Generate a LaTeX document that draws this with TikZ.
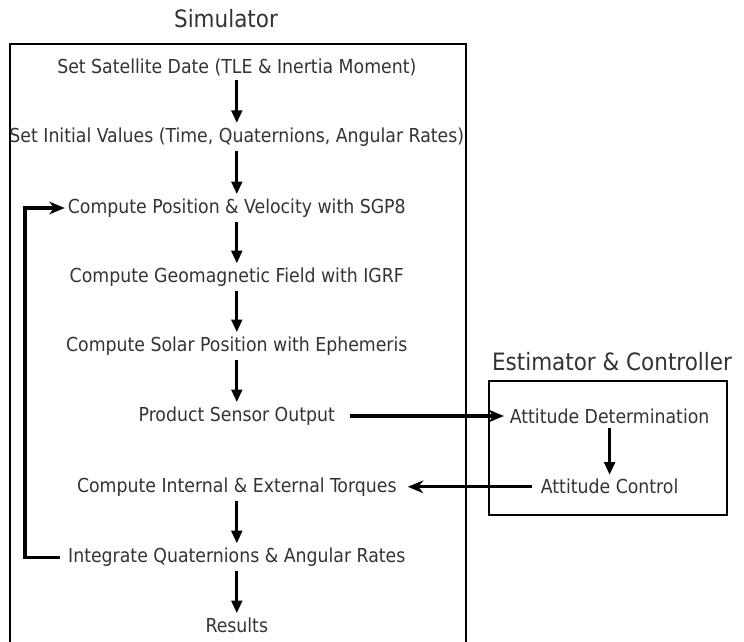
\documentclass[tikz,border=0pt]{standalone}
\usepackage{fontspec}
\setmainfont{DejaVu Sans Condensed}
\usepackage{xcolor}
\usetikzlibrary{arrows.meta, positioning}

\begin{document}
\begin{tikzpicture}[
  stepnode/.style={inner xsep=2pt, inner ysep=1pt,
                   font=\fontsize{13.7}{16}\selectfont, text=black!80},
  titlenode/.style={inner sep=0pt, font=\fontsize{17}{20}\selectfont,
                    text=black!80},
  frame/.style={draw, line width=1.4pt},
  varr/.style={-{Triangle[length=9pt, width=7.5pt]}, line width=2.2pt,
               shorten <=2pt, shorten >=2pt},
  harr/.style={-{Stealth[length=11pt, width=9pt, inset=3.5pt]}, line width=2.2pt},
]
\useasboundingbox (0,0) rectangle (18.6,-16.025);

% --- Titles and frames ---
\node[titlenode] (simtitle) at (5.65, -0.47) {Simulator};
\node[titlenode] (esttitle) at (15.3, -9.03) {Estimator \& Controller};
\draw[frame] (0.25,-16.4) -- (0.25,-1.09) -- (11.65,-1.09) -- (11.65,-16.4);
\draw[frame] (12.225,-9.525) rectangle (18.175,-12.875);

% --- Simulator steps ---
\node[stepnode] (satdata) at (5.92,  -1.68) {Set Satellite Date (TLE \& Inertia Moment)};
\node[stepnode] (initval) at (5.92,  -3.42) {Set Initial Values (Time, Quaternions, Angular Rates)};
\node[stepnode] (posvel)  at (5.92,  -5.20) {Compute Position \& Velocity with SGP8};
\node[stepnode] (geomag)  at (5.92,  -6.93) {Compute Geomagnetic Field with IGRF};
\node[stepnode] (solar)   at (5.92,  -8.65) {Compute Solar Position with Ephemeris};
\node[stepnode] (sensor)  at (5.92, -10.40) {Product Sensor Output};
\node[stepnode] (torques) at (5.92, -12.17) {Compute Internal \& External Torques};
\node[stepnode] (integ)   at (5.92, -13.93) {Integrate Quaternions \& Angular Rates};
\node[stepnode] (results) at (5.92, -15.63) {Results};

% --- Estimator & Controller steps ---
\node[stepnode] (attdet)  at (15.24, -10.40) {Attitude Determination};
\node[stepnode] (attctl)  at (15.24, -12.17) {Attitude Control};

% --- Vertical flow ---
\draw[varr] (satdata) -- (initval);
\draw[varr] (initval) -- (posvel);
\draw[varr] (posvel)  -- (geomag);
\draw[varr] (geomag)  -- (solar);
\draw[varr] (solar)   -- (sensor);
\draw[varr] (torques) -- (integ);
\draw[varr] (integ)   -- (results);
\draw[varr] (attdet)  -- (attctl);

% --- Links between the two blocks and the loop ---
\coordinate (loopx) at (0.625, 0);
\draw[harr, shorten <=8.5pt, shorten >=2pt] (sensor.east) -- (attdet.west);
\draw[harr, shorten <=4.4pt, shorten >=5.8pt] (attctl.west) -- (torques.east);
\draw[harr, shorten <=3.7pt] (integ.west) -- (integ.west -| loopx) |- (posvel.west);
\end{tikzpicture}
\end{document}
